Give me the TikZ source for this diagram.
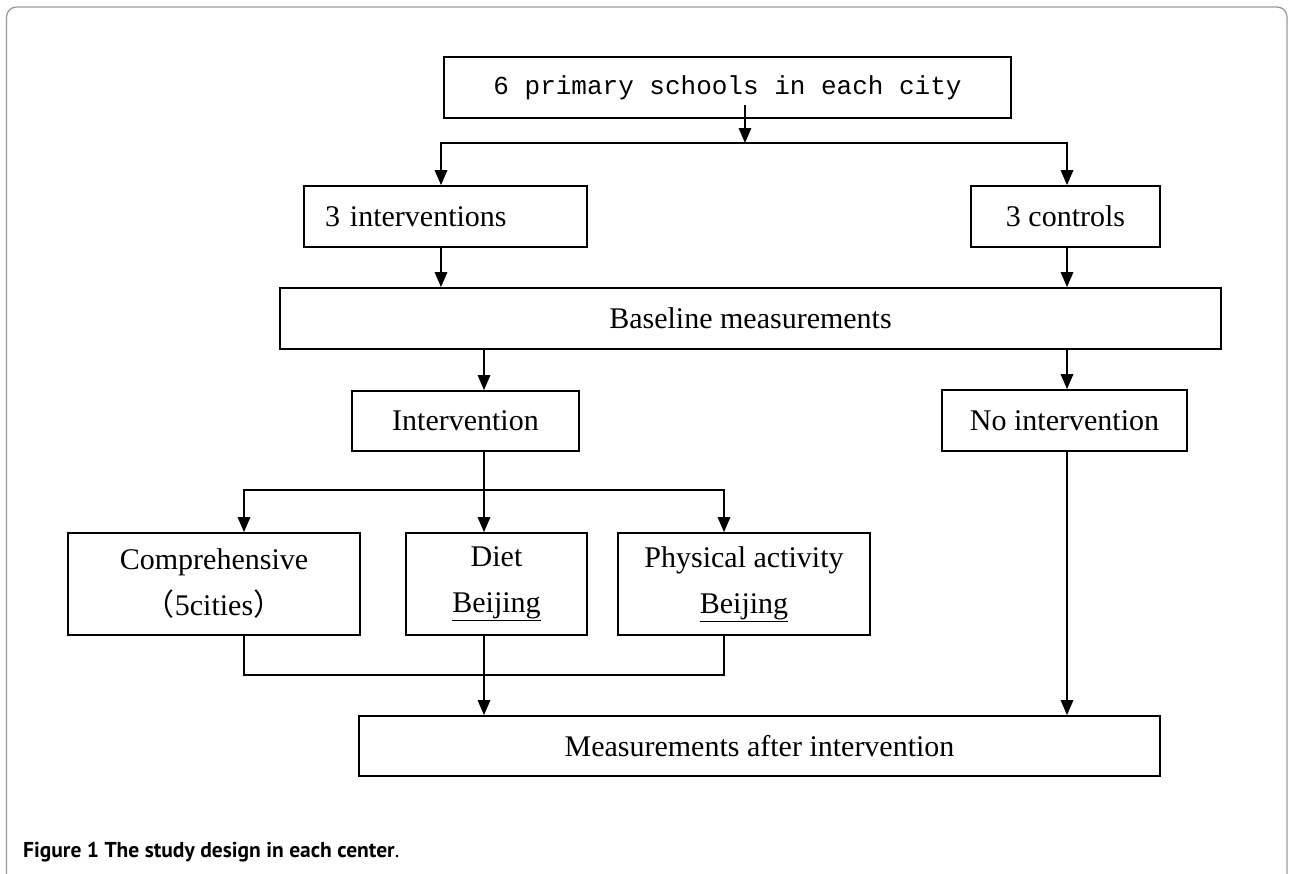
\documentclass[tikz,border=0pt]{standalone}
\usepackage{fontspec}
\setmainfont{Liberation Serif}
\newfontfamily\monofnt{Liberation Mono}
\newfontfamily\capfnt{PT Sans}
\newfontfamily\cjk{Noto Sans CJK SC}
\usetikzlibrary{arrows.meta,calc}
\begin{document}
\begin{tikzpicture}[x=1pt,y=-1pt,
  box/.style={draw=black,line width=1.8pt,rectangle,inner sep=0pt,align=center,
    font=\fontsize{30}{46}\selectfont},
  conn/.style={line width=1.5pt,draw=black},
  arr/.style={conn,-{Triangle[length=15pt,width=12.5pt]}}]
\useasboundingbox (0,0) rectangle (1289,873);
\begin{scope}
\clip (0,0) rectangle (1289,873);
\draw[gray!80,line width=1.3pt,rounded corners=10pt] (6.5,7) rectangle (1287,900);
\end{scope}

% nodes
\node[box,minimum width=567pt,minimum height=61pt,font=\monofnt\fontsize{26}{30}\selectfont]
  (top) at (727.5,87.5) {6 primary schools in each city};
\node[box,minimum height=61pt,inner xsep=21pt,text width=241pt,align=left]
  (int3) at (445.5,216.5) {3 interventions};
\node[box,minimum width=189pt,minimum height=61pt] (ctrl3) at (1065.5,216.5) {3 controls};
\node[box,minimum width=941pt,minimum height=61pt] (base) at (750.5,318.5) {Baseline measurements};
\node[box,minimum width=227pt,minimum height=60pt] (intv) at (465.5,421) {Intervention};
\node[box,minimum width=245pt,minimum height=61pt] (noint) at (1064.5,420.5) {No intervention};
\node[box,minimum width=292pt,minimum height=102pt] (comp) at (214,584)
  {Comprehensive\\{\cjk （}5cities{\cjk ）}};
\node[box,minimum width=181pt,minimum height=102pt] (diet) at (496.5,584)
  {Diet\\\underline{Beijing}};
\node[box,minimum width=252pt,minimum height=102pt] (phys) at (744,584)
  {Physical activity\\\underline{Beijing}};
\node[box,minimum width=801pt,minimum height=60pt] (meas) at (759.5,746)
  {Measurements after intervention};

\node[anchor=base west,inner sep=0pt,font=\capfnt\fontsize{21.5}{24}\selectfont] (cap) at (23,857)
  {\textbf{Figure 1 The study design in each center}.};

% column coordinates
\coordinate (xa) at (441,0);
\coordinate (xb) at (1067,0);
\coordinate (xc) at (484,0);
\coordinate (xd) at (244,0);
\coordinate (xe) at (724,0);
\coordinate (ts) at (745,105);
\coordinate (hj) at (745,143);
\coordinate (sp) at (484,490);
\coordinate (mj) at (484,675);

% connectors
\draw[arr] (ts) -- (hj);
\draw[arr] (hj) -| (int3.north -| xa);
\draw[arr] (hj) -| (ctrl3.north -| xb);
\draw[arr] (int3.south -| xa) -- (base.north -| xa);
\draw[arr] (ctrl3.south -| xb) -- (base.north -| xb);
\draw[arr] (base.south -| xc) -- (intv.north -| xc);
\draw[arr] (base.south -| xb) -- (noint.north -| xb);
\draw[arr] (intv.south -| xc) -- (diet.north -| xc);
\draw[arr] (sp) -| (comp.north -| xd);
\draw[arr] (sp) -| (phys.north -| xe);
\draw[conn] (comp.south -| xd) |- (mj) -| (phys.south -| xe);
\draw[arr] (diet.south -| xc) -- (meas.north -| xc);
\draw[arr] (noint.south -| xb) -- (meas.north -| xb);
\end{tikzpicture}
\end{document}
